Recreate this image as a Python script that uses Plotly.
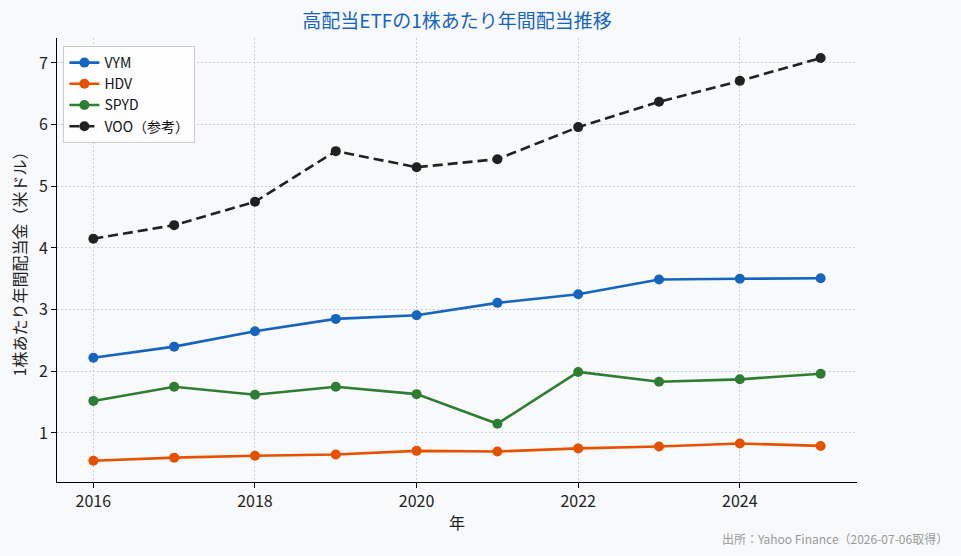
import plotly.graph_objects as go

years = [2016, 2017, 2018, 2019, 2020, 2021, 2022, 2023, 2024, 2025]
vym = [2.22, 2.40, 2.65, 2.85, 2.91, 3.11, 3.25, 3.49, 3.50, 3.51]
hdv = [0.55, 0.60, 0.63, 0.65, 0.71, 0.70, 0.75, 0.78, 0.83, 0.79]
spyd = [1.52, 1.75, 1.62, 1.75, 1.63, 1.15, 1.99, 1.83, 1.87, 1.96]
voo = [4.15, 4.37, 4.75, 5.57, 5.31, 5.44, 5.96, 6.37, 6.71, 7.08]

series = [
    ("VYM", vym, "#1565C0", "solid"),
    ("HDV", hdv, "#E65100", "solid"),
    ("SPYD", spyd, "#2E7D32", "solid"),
    ("VOO（参考）", voo, "#212121", "10px,5px"),
]

FONT = "Noto Sans CJK JP"
BG = "#F8F9FA"

fig = go.Figure()
for name, vals, color, dash in series:
    fig.add_trace(go.Scatter(
        x=years, y=vals, name=name, mode="lines+markers",
        line=dict(color=color, width=2.6, dash=dash),
        marker=dict(color=color, size=10),
    ))

fig.update_layout(
    width=961, height=556,
    paper_bgcolor=BG, plot_bgcolor=BG,
    font=dict(family=FONT, size=16, color="#222222"),
    margin=dict(l=57, r=104, t=38, b=74),
    title=dict(text="高配当ETFの1株あたり年間配当推移", x=0.5, xref="paper",
               y=0.962, yanchor="middle",
               font=dict(family=FONT, size=19, color="#1565C0")),
    legend=dict(x=0.008, y=0.982, xanchor="left", yanchor="top",
                bgcolor="rgba(255,255,255,0.85)", bordercolor="#cccccc", borderwidth=1,
                font=dict(family=FONT, size=14, color="#111111"),
                tracegroupgap=0),
    showlegend=True,
)
grid = dict(showgrid=True, gridcolor="#cfcfcf", griddash="1.5px,2.5px", gridwidth=1, zeroline=False)
fig.update_xaxes(
    range=[2015.55, 2025.45], tickvals=[2016, 2018, 2020, 2022, 2024],
    ticks="outside", ticklen=5, tickcolor="#000", showline=True, linecolor="#000", linewidth=1,
    title=dict(text="年", font=dict(size=16), standoff=6), **grid,
)
fig.update_yaxes(
    range=[0.205, 7.405], tickvals=[1, 2, 3, 4, 5, 6, 7],
    ticks="outside", ticklen=5, tickcolor="#000", showline=True, linecolor="#000", linewidth=1,
    title=dict(text="1株あたり年間配当金（米ドル）", font=dict(size=16), standoff=8), **grid,
)
fig.add_annotation(
    text="出所：Yahoo Finance（2026-07-06取得）", xref="paper", yref="paper",
    x=1.116, y=-0.104, xanchor="right", yanchor="top", showarrow=False,
    font=dict(family=FONT, size=12, color="#999999"),
)
fig.write_html("out.html")
